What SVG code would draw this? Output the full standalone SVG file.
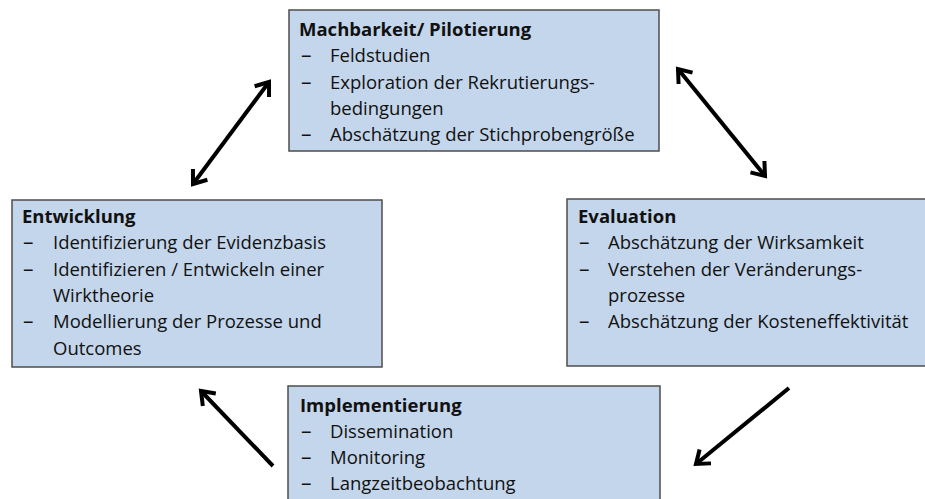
<svg xmlns="http://www.w3.org/2000/svg" width="925" height="499" viewBox="0 0 925 499">
<style>
.box{fill:#c4d6eb;stroke:#4d4d4d;stroke-width:1.5}
text{font-family:"Open Sans","Liberation Sans",sans-serif;font-size:18.5px;fill:#111}
.t{font-weight:bold}
.d{font-size:21px}
.arr{stroke:#000;stroke-width:4;fill:none}
</style>
<defs>
<marker id="ah" markerUnits="userSpaceOnUse" markerWidth="30" markerHeight="30" viewBox="-15 -15 30 30" refX="0" refY="0" orient="auto-start-reverse">
<path d="M-12,-9 L0,0 L-12,9" fill="none" stroke="#000" stroke-width="4"/>
</marker>
</defs>
<rect width="925" height="499" fill="#fff"/>
<g id="machbarkeit">
<rect class="box" x="289" y="10" width="370" height="141"/>
<text class="t" x="299" y="36">Machbarkeit/ Pilotierung</text>
<text class="d" x="301" y="62">–</text><text x="330" y="62">Feldstudien</text>
<text class="d" x="301" y="89">–</text><text x="330" y="89">Exploration der Rekrutierungs-</text>
<text x="330" y="115">bedingungen</text>
<text class="d" x="301" y="141">–</text><text x="330" y="141">Abschätzung der Stichprobengröße</text>
</g>
<g id="entwicklung">
<rect class="box" x="12" y="200" width="370" height="167"/>
<text class="t" x="22" y="223">Entwicklung</text>
<text class="d" x="23" y="249">–</text><text x="53" y="249">Identifizierung der Evidenzbasis</text>
<text class="d" x="23" y="276">–</text><text x="53" y="276">Identifizieren / Entwickeln einer</text>
<text x="53" y="302">Wirktheorie</text>
<text class="d" x="23" y="328">–</text><text x="53" y="328">Modellierung der Prozesse und</text>
<text x="53" y="355">Outcomes</text>
</g>
<g id="evaluation">
<rect class="box" x="567" y="199" width="370" height="167"/>
<text class="t" x="578" y="223">Evaluation</text>
<text class="d" x="579" y="249">–</text><text x="608" y="249">Abschätzung der Wirksamkeit</text>
<text class="d" x="579" y="276">–</text><text x="608" y="276">Verstehen der Veränderungs-</text>
<text x="608" y="302">prozesse</text>
<text class="d" x="579" y="328">–</text><text x="608" y="328">Abschätzung der Kosteneffektivität</text>
</g>
<g id="implementierung">
<rect class="box" x="288" y="386" width="372" height="130"/>
<text class="t" x="300" y="412">Implementierung</text>
<text class="d" x="301" y="438">–</text><text x="330" y="438">Dissemination</text>
<text class="d" x="301" y="464">–</text><text x="330" y="464">Monitoring</text>
<text class="d" x="301" y="490">–</text><text x="330" y="490">Langzeitbeobachtung</text>
</g>
<g id="connectors">
<line class="arr" x1="193" y1="184" x2="269" y2="82" marker-start="url(#ah)" marker-end="url(#ah)"/>
<line class="arr" x1="678" y1="69" x2="765" y2="176" marker-start="url(#ah)" marker-end="url(#ah)"/>
<line class="arr" x1="273" y1="466" x2="201" y2="391" marker-end="url(#ah)"/>
<line class="arr" x1="789" y1="388" x2="696" y2="464" marker-end="url(#ah)"/>
</g>
</svg>
